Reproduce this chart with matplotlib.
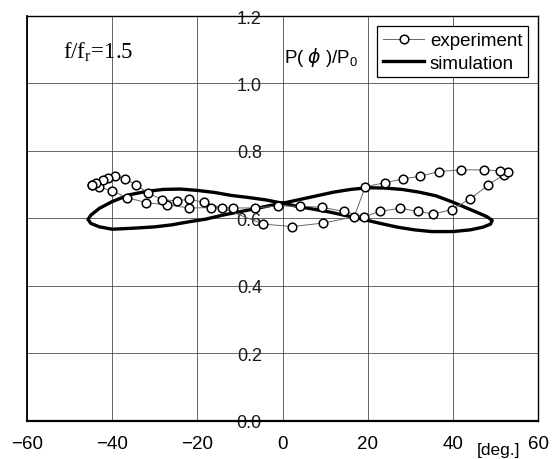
import matplotlib
matplotlib.use('Agg')
import matplotlib.pyplot as plt

plt.rcParams['font.family'] = ['Liberation Sans', 'DejaVu Sans']

# experiment: phase angle [deg] and P(phi)/P0
exp_phi = [-44.8, -43.0, -40.1, -36.6, -32.1, -27.1, -21.9, -16.9, -11.6, -6.5,
           -1.2, 4.1, 9.2, 14.3, 19.2, 22.9, 27.6, 31.7, 35.4, 39.7,
           44.0, 48.3, 51.9, 52.8, 51.1, 47.2, 41.9, 36.7, 32.3, 28.2,
           24.1, 19.4, 16.8, 9.4, 2.2, -4.5, -14.3, -18.5, -22.0, -24.9,
           -28.4, -31.5, -34.4, -37.1, -39.3, -40.9, -42.2, -43.8, -44.8]
exp_p = [0.700, 0.692, 0.682, 0.662, 0.647, 0.640, 0.631, 0.632, 0.631, 0.631,
         0.637, 0.636, 0.633, 0.621, 0.605, 0.621, 0.630, 0.621, 0.613, 0.626,
         0.658, 0.699, 0.730, 0.738, 0.741, 0.744, 0.744, 0.739, 0.725, 0.717,
         0.706, 0.694, 0.605, 0.586, 0.576, 0.583, 0.631, 0.648, 0.657, 0.652,
         0.656, 0.675, 0.699, 0.718, 0.727, 0.721, 0.713, 0.704, 0.700]

# simulation: figure-eight loop
sim_phi = [0, 4, 8, 12, 16, 20, 24, 28, 32, 36, 40, 43, 46, 48, 49.2, 48.8, 47,
           44, 40, 35, 31, 27, 23, 19, 15, 11, 7, 3, 0, -4, -8, -12, -16, -20,
           -24, -28, -32, -36, -40, -43, -45, -45.7, -45, -43, -40, -35, -30,
           -26, -22, -18, -14, -10, -6, -3, 0]
sim_p = [0.645, 0.656, 0.667, 0.678, 0.686, 0.691, 0.690, 0.686, 0.678, 0.667,
         0.648, 0.632, 0.616, 0.605, 0.594, 0.583, 0.574, 0.566, 0.561, 0.561,
         0.566, 0.574, 0.585, 0.597, 0.608, 0.619, 0.628, 0.637, 0.645, 0.655,
         0.662, 0.668, 0.677, 0.683, 0.687, 0.686, 0.680, 0.670, 0.650, 0.630,
         0.610, 0.597, 0.585, 0.575, 0.568, 0.571, 0.575, 0.581, 0.590, 0.598,
         0.610, 0.620, 0.630, 0.638, 0.645]

xticks = [-60, -40, -20, 0, 20, 40, 60]
yticks = [0.0, 0.2, 0.4, 0.6, 0.8, 1.0, 1.2]

fig = plt.figure(figsize=(5.52, 4.6), dpi=100)
ax = fig.add_axes([0.049, 0.083, 0.926, 0.880])

l_sim, = ax.plot(sim_phi, sim_p, color='black', lw=2.4, solid_joinstyle='round',
                 label='simulation', zorder=3)
l_exp, = ax.plot(exp_phi, exp_p, '-o', color='0.4', lw=0.7, ms=6.2, mfc='white',
                 mec='black', mew=1.1, label='experiment', zorder=4)

ax.set_xlim(-60, 60)
ax.set_ylim(0, 1.2)
ax.set_xticks(xticks)
ax.set_yticks(yticks)
ax.set_yticklabels(['%.1f' % v for v in yticks])
ax.grid(True, color='0.3', lw=0.6)

# y labels sit on the phi=0 line
ax.spines['left'].set_position(('data', 0))
ax.spines['left'].set_visible(False)
ax.axvline(-60, color='black', lw=1.3, clip_on=False, zorder=5)
for s in ['top', 'right']:
    ax.spines[s].set_linewidth(1.0)
ax.spines['bottom'].set_linewidth(1.6)

ax.tick_params(length=0)
ax.tick_params(axis='x', labelsize=13.5, pad=10, labelcolor='black')
ax.tick_params(axis='y', labelsize=13, pad=15, labelcolor='0.1')

ax.text(-51.5, 1.095, 'f/f$_\\mathregular{r}$=1.5', family='Liberation Serif',
        fontsize=16.5, va='center')
ax.text(0.4, 1.08, 'P( $\\phi$ )/P$_\\mathregular{0}$', fontsize=13.5, va='center')
ax.text(50.6, -0.085, '[deg.]', fontsize=12.5, ha='center', va='center', clip_on=False)

leg = ax.legend(handles=[l_exp, l_sim], loc='upper right', fontsize=13.5,
                fancybox=False, framealpha=1, edgecolor='black',
                handlelength=2.2, handletextpad=0.3, labelspacing=0.3,
                borderpad=0.3, borderaxespad=0.55)
leg.get_frame().set_linewidth(0.9)

fig.savefig('out.png', dpi=100)
